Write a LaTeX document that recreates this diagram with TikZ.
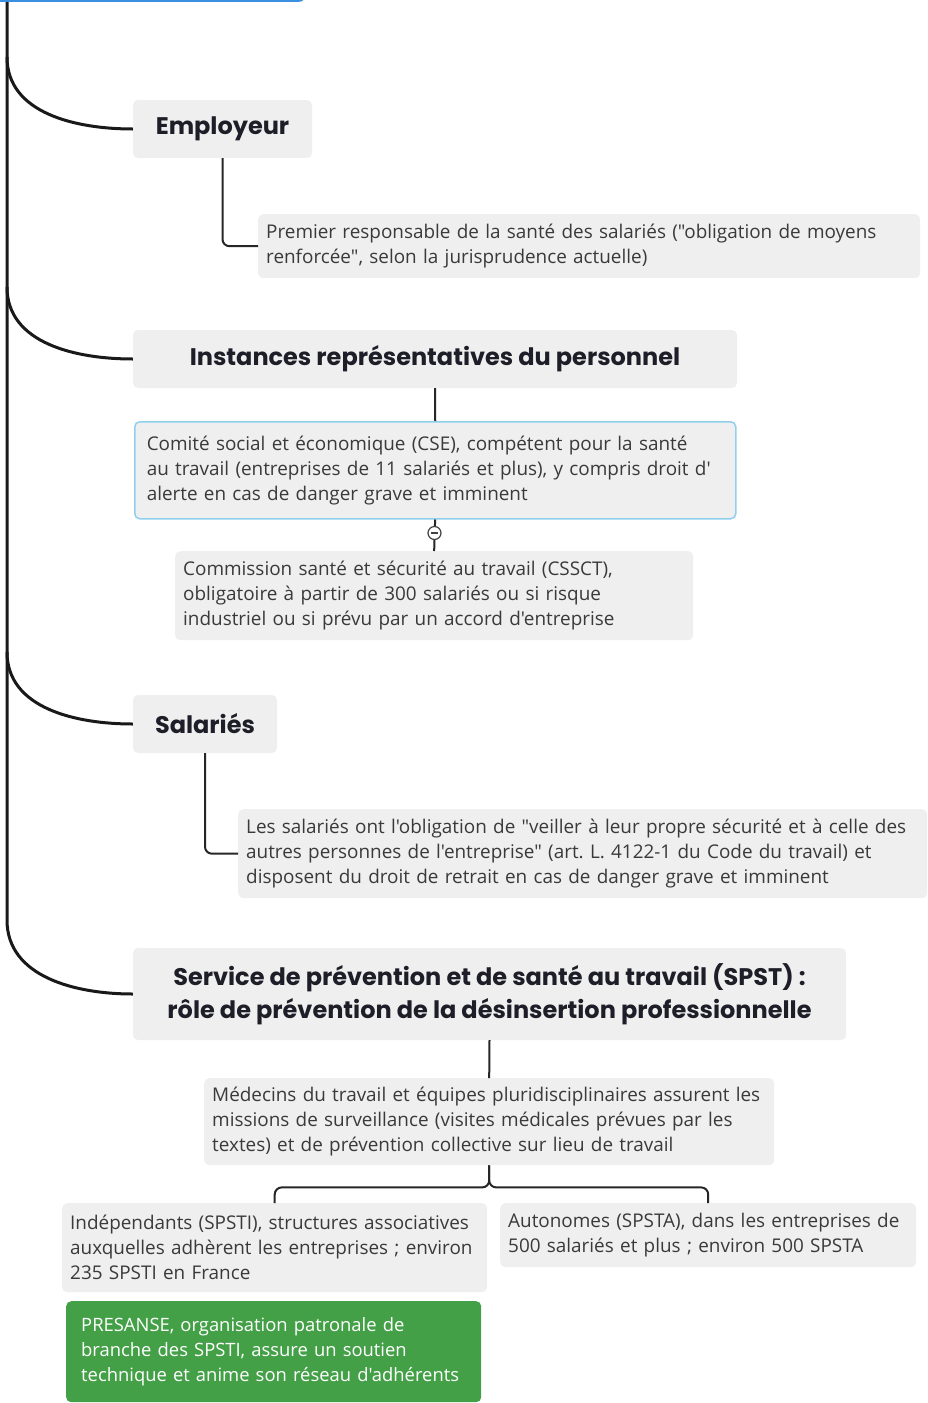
\documentclass[tikz,border=0pt]{standalone}
\usepackage{fontspec}
\newfontfamily\bodyfont{Open Sans}
\newfontfamily\headfont{Poppins}
\usepackage{xcolor}
\usetikzlibrary{positioning}
\frenchspacing
\definecolor{boxgray}{HTML}{EFEFEF}
\definecolor{textgray}{HTML}{3A3A3A}
\definecolor{headink}{HTML}{1E1E28}
\definecolor{cseblue}{HTML}{8FD0EC}
\definecolor{rootblue}{HTML}{3B8FE0}
\definecolor{presgreen}{HTML}{43A047}
\tikzset{
  topic/.style={fill=boxgray, rounded corners=5pt, inner sep=0pt, text=headink,
    font=\headfont\bfseries\fontsize{24}{33}\selectfont, align=center},
  note/.style={fill=boxgray, rounded corners=5pt, inner xsep=8pt, inner ysep=0pt,
    text=textgray, font=\bodyfont\fontsize{18.9}{25}\selectfont, align=left, anchor=north west},
  trunk/.style={line width=3pt, draw=black!90},
  link/.style={line width=2pt, draw=black!85, rounded corners=7pt},
  foldmark/.style={circle, draw=black!75, fill=white, line width=1.2pt, minimum size=13pt,
    inner sep=0pt, path picture={\draw[line width=1.2pt, black!75]
      ([xshift=3pt]path picture bounding box.west) -- ([xshift=-3pt]path picture bounding box.east);}}
}
\begin{document}
\begin{tikzpicture}[x=1pt, y=-1pt]
		\useasboundingbox (0,0) rectangle (927,1403);
		\clip (0,0) rectangle (927,1403);
		\node [fill=rootblue, rounded corners=6pt, anchor=south west, minimum width=320pt,
			minimum height=60pt] (root) at (-15,2) {};

		% main topics
		\node [topic, minimum width=179pt, minimum height=58pt] (emp) at (222.5,129) {Employeur};
		\node [topic, minimum width=604pt, minimum height=58pt] (irp) at (435,359) {Instances représentatives du personnel};
		\node [topic, minimum width=144pt, minimum height=58pt] (sal) at (205,724) {Salariés};
		\node [topic, minimum width=713pt, minimum height=92pt] (spst) at (489.5,994)
			{Service de prévention et de santé au travail (SPST) :\\ rôle de prévention de la désinsertion professionnelle};

		% notes
		\node [note, text width=646pt, minimum height=64pt] (empnote) at (258,214)
			{Premier responsable de la santé des salariés ("obligation de moyens\\ renforcée", selon la jurisprudence actuelle)};
		\node [note, draw=cseblue, line width=1.5pt, inner xsep=12pt, text width=577pt, minimum height=97pt] (cse) at (134,421)
			{Comité social et économique (CSE), compétent pour la santé\\ au travail (entreprises de 11 salariés et plus), y compris droit d'\\ alerte en cas de danger grave et imminent};
		\node [foldmark] (fold) at (434.5,533) {};
		\node [note, text width=502pt, minimum height=89pt] (cssct) at (175,551)
			{Commission santé et sécurité au travail (CSSCT),\\ obligatoire à partir de 300 salariés ou si risque\\ industriel ou si prévu par un accord d'entreprise};
		\node [note, text width=673pt, minimum height=89pt] (salnote) at (238,809)
			{Les salariés ont l'obligation de "veiller à leur propre sécurité et à celle des\\ autres personnes de l'entreprise" (art. L. 4122-1 du Code du travail) et\\ disposent du droit de retrait en cas de danger grave et imminent};
		\node [note, text width=554pt, minimum height=87pt] (med) at (204,1078)
			{Médecins du travail et équipes pluridisciplinaires assurent les\\ missions de surveillance (visites médicales prévues par les\\ textes) et de prévention collective sur lieu de travail};
		\node [note, text width=409pt, minimum height=89pt] (spsti) at (62,1203)
			{Indépendants (SPSTI), structures associatives\\ auxquelles adhèrent les entreprises ; environ\\ 235 SPSTI en France};
		\node [note, text width=400pt, minimum height=64pt] (spsta) at (500,1203)
			{Autonomes (SPSTA), dans les entreprises de\\ 500 salariés et plus ; environ 500 SPSTA};
		\node [note, fill=presgreen, text=white, inner xsep=15pt, text width=385pt, minimum height=101pt,
			font=\bodyfont\fontsize{18.4}{25}\selectfont] (presanse) at (66,1301)
			{PRESANSE, organisation patronale de\\ branche des SPSTI, assure un soutien\\ technique et anime son réseau d'adhérents};

		% trunk and branches
		\coordinate (top) at (7,2);
		\coordinate (kemp) at (7,57);
		\coordinate (kirp) at (7,287);
		\coordinate (ksal) at (7,652);
		\coordinate (kspst) at (7,920);
		\draw [trunk] (top) -- (kspst) to[out=-90, in=180] (spst.west);
		\draw [trunk] (kemp) to[out=-90, in=180] (emp.west);
		\draw [trunk] (kirp) to[out=-90, in=180] (irp.west);
		\draw [trunk] (ksal) to[out=-90, in=180] (sal.west);

		\draw [link] (emp.south) |- (empnote.west);
		\draw [link] (irp.south) -- (cse.north);
		\draw [link] (cse.south) -- (fold) -- (cssct.north);
		\draw [link] (sal.south) |- (salnote.west);
		\draw [link] (spst.south) -- (med.north);
		\draw [link] (med.south) -- ++(0,22) -| (spsti.north);
		\draw [link] (med.south) -- ++(0,22) -| (spsta.north);
	\end{tikzpicture}
\end{document}
